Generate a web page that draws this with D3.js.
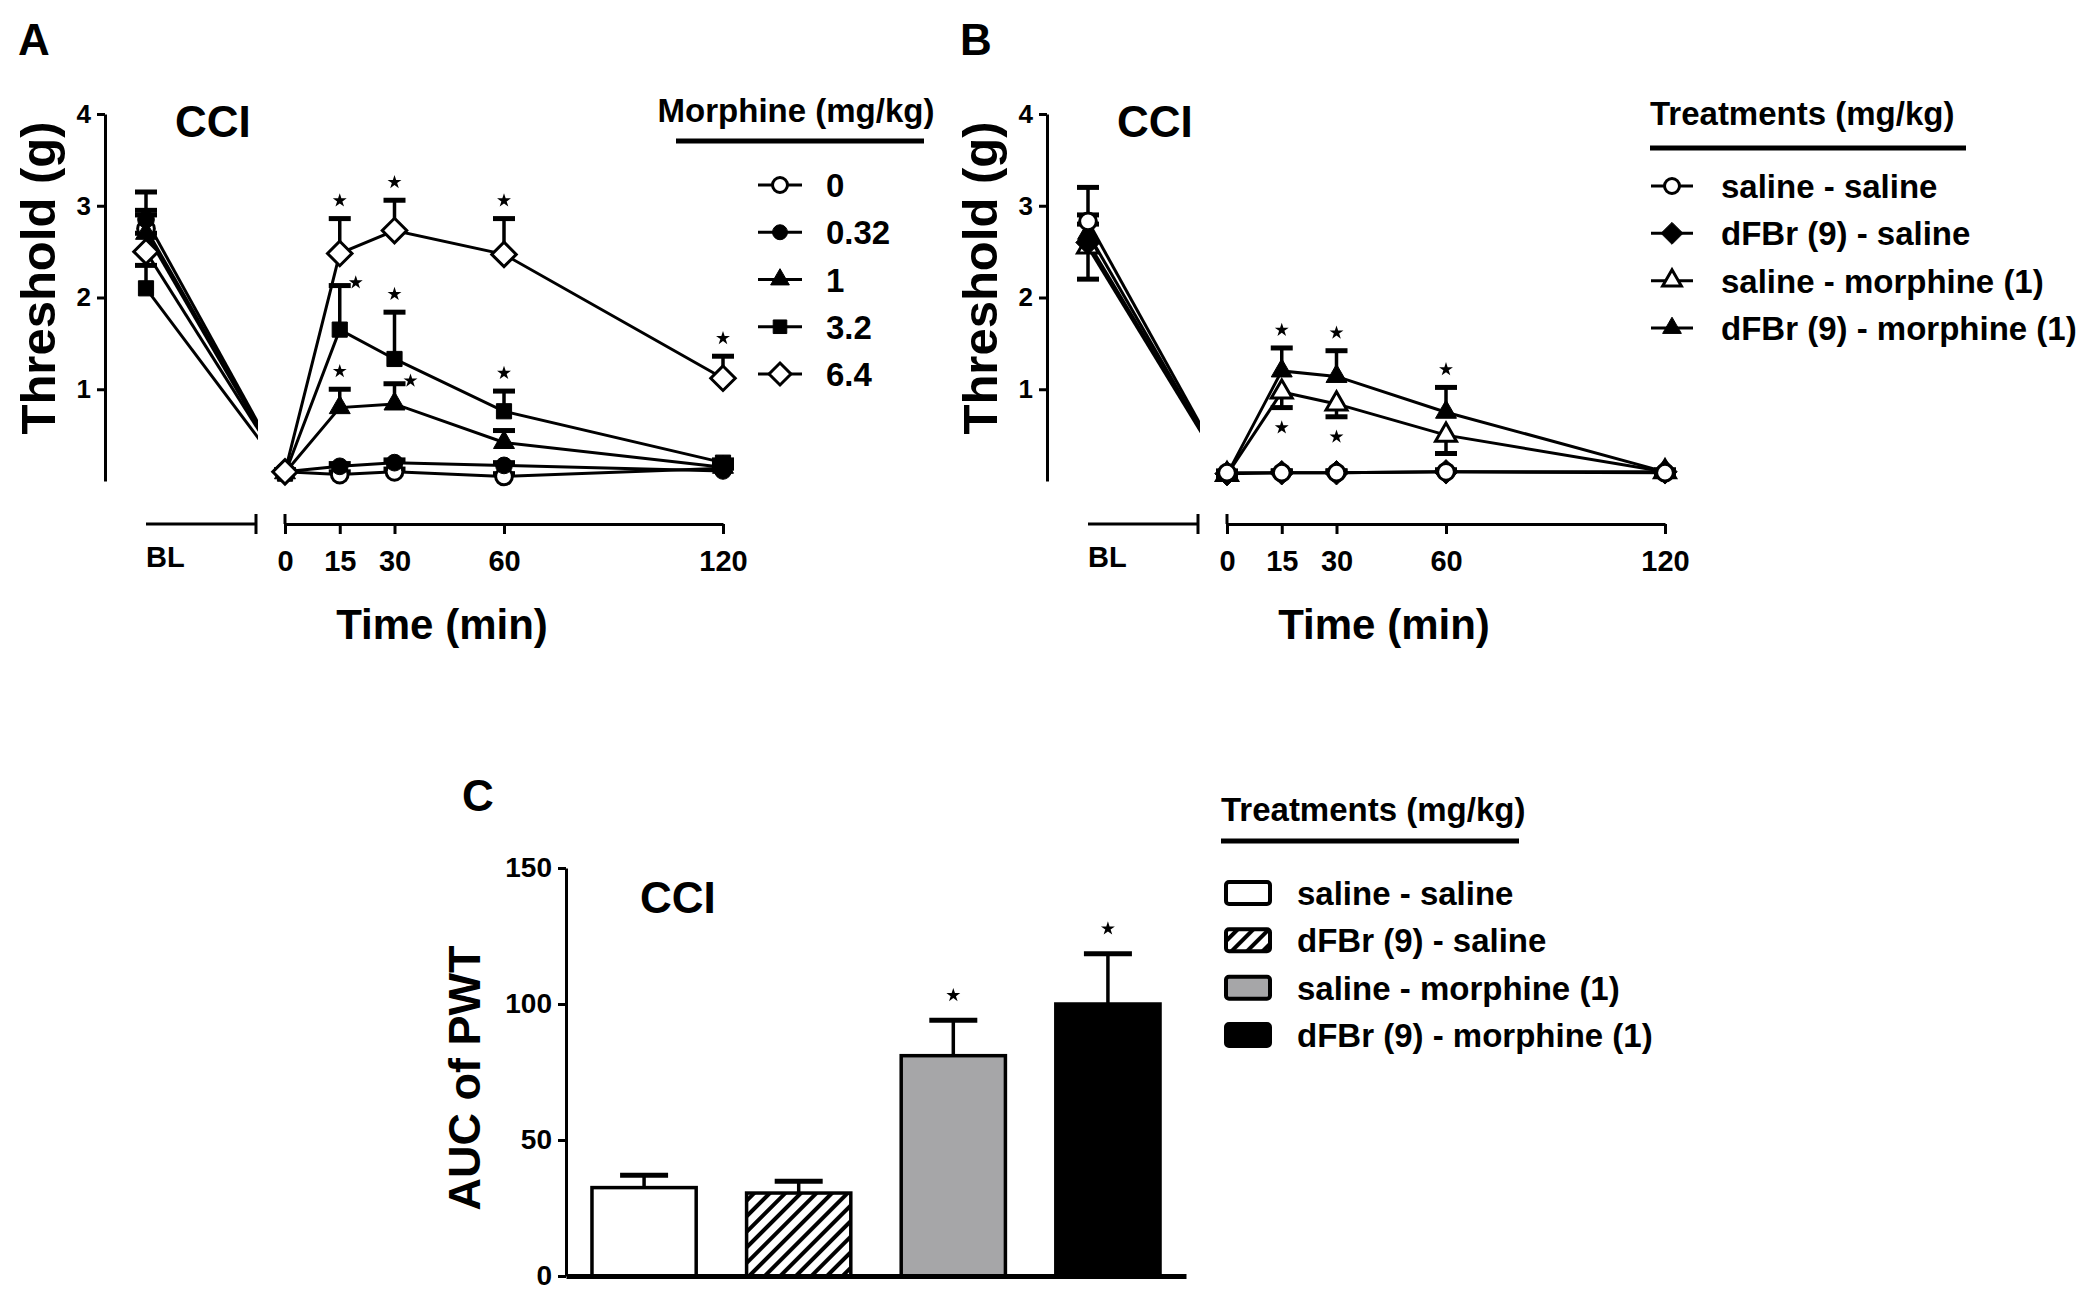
<!DOCTYPE html>
<html>
<head>
<meta charset="utf-8">
<script src="https://cdn.jsdelivr.net/npm/d3@7"></script>
<style>
  body { margin: 0; background: #fff; }
  text { font-family: "Liberation Sans", Arial, sans-serif; font-weight: bold; fill: #000; }
</style>
</head>
<body>
<svg id="fig" width="2100" height="1294"></svg>
<script>
// time points (min) after injection; every series array is [BL, 0, 15, 30, 60, 120]
const times = [0, 15, 30, 60, 120];
const thresholdTicks = [1, 2, 3, 4];
const aucTicks = [0, 50, 100, 150];

// Panel A: morphine dose groups (mg/kg)
const doseLabels = ['0', '0.32', '1', '3.2', '6.4'];
const dose0 = [2.75, 0.1, 0.07, 0.1, 0.05, 0.14];
const dose0Sem = [0.2, 0.02, 0.03, 0.03, 0.03, 0.03];
const dose032 = [2.85, 0.1, 0.16, 0.2, 0.17, 0.11];
const dose032Sem = [0.3, 0.02, 0.03, 0.03, 0.03, 0.03];
const dose1 = [2.7, 0.09, 0.8, 0.84, 0.42, 0.15];
const dose1Sem = [0.2, 0.02, 0.2, 0.22, 0.13, 0.03];
const dose32 = [2.1, 0.08, 1.65, 1.33, 0.76, 0.2];
const dose32Sem = [0.25, 0.02, 0.48, 0.51, 0.22, 0.03];
const dose64 = [2.5, 0.1, 2.48, 2.73, 2.47, 1.12];
const dose64Sem = [0.2, 0.02, 0.38, 0.33, 0.39, 0.24];
// significance marks: [group, time, where]
const starsA = [['6.4', 15, 'above'], ['6.4', 30, 'above'], ['6.4', 60, 'above'], ['6.4', 120, 'above'],
  ['3.2', 15, 'right'], ['3.2', 30, 'above'], ['3.2', 60, 'above'], ['1', 15, 'above'], ['1', 30, 'right']];

// Panel B: treatment combinations (mg/kg)
const treatments = ['saline - saline', 'dFBr (9) - saline', 'saline - morphine (1)', 'dFBr (9) - morphine (1)'];
const salSal = [2.83, 0.09, 0.09, 0.09, 0.1, 0.09];
const salSalSem = [0.37, 0.02, 0.02, 0.02, 0.02, 0.02];
const dfbrSal = [2.6, 0.08, 0.09, 0.09, 0.1, 0.1];
const dfbrSalSem = [0.2, 0.02, 0.02, 0.02, 0.02, 0.02];
const salMor = [2.55, 0.07, 0.97, 0.84, 0.5, 0.1];
const salMorSem = [0.35, 0.02, 0.17, 0.14, 0.2, 0.02];
const dfbrMor = [2.7, 0.07, 1.2, 1.14, 0.75, 0.1];
const dfbrMorSem = [0.2, 0.02, 0.25, 0.28, 0.27, 0.02];
const starsB = [['dFBr (9) - morphine (1)', 15, 'above'], ['dFBr (9) - morphine (1)', 30, 'above'],
  ['dFBr (9) - morphine (1)', 60, 'above'], ['saline - morphine (1)', 15, 'below'], ['saline - morphine (1)', 30, 'below']];

// Panel C: area under the curve of paw withdrawal threshold
const aucMean = [32.5, 30.5, 81, 100];
const aucSem = [4.5, 4.3, 13, 18.5];
const aucStar = [false, false, true, true];

const svg = d3.select('#fig');

// rhombus marker (d3's diamond is too narrow)
const rhomb = {
  draw(ctx, size) {
    const r = Math.sqrt(size / 2);
    ctx.moveTo(0, -r); ctx.lineTo(r, 0); ctx.lineTo(0, r); ctx.lineTo(-r, 0); ctx.closePath();
  }
};
const shapes = {
  circle: [d3.symbolCircle, 220],
  triangle: [d3.symbolTriangle, 190],
  square: [d3.symbolSquare, 230],
  diamond: [rhomb, 300]
};

const seriesA = [
  { name: '0', mean: dose0, sem: dose0Sem, shape: 'circle', filled: false, dir: 1 },
  { name: '0.32', mean: dose032, sem: dose032Sem, shape: 'circle', filled: true, dir: 1 },
  { name: '1', mean: dose1, sem: dose1Sem, shape: 'triangle', filled: true, dir: 1 },
  { name: '3.2', mean: dose32, sem: dose32Sem, shape: 'square', filled: true, dir: 1 },
  { name: '6.4', mean: dose64, sem: dose64Sem, shape: 'diamond', filled: false, dir: 1 }
];
const seriesB = [
  { name: treatments[3], mean: dfbrMor, sem: dfbrMorSem, shape: 'triangle', filled: true, dir: 1 },
  { name: treatments[2], mean: salMor, sem: salMorSem, shape: 'triangle', filled: false, dir: -1 },
  { name: treatments[1], mean: dfbrSal, sem: dfbrSalSem, shape: 'diamond', filled: true, dir: 1 },
  { name: treatments[0], mean: salSal, sem: salSalSem, shape: 'circle', filled: false, dir: 1 }
];

function marker(sel, s, scale) {
  const [type, size] = shapes[s.shape];
  return sel.append('path')
    .attr('d', d3.symbol().type(type).size(size * (scale || 1))())
    .attr('fill', s.filled ? '#000' : '#fff')
    .attr('stroke', '#000')
    .attr('stroke-width', s.filled ? 1 : 3);
}

function styleAxis(sel, size) {
  sel.attr('font-family', null).attr('font-size', null);
  sel.select('.domain').attr('stroke', '#000').attr('stroke-width', 3);
  sel.selectAll('.tick line').attr('stroke', '#000').attr('stroke-width', 3);
  sel.selectAll('.tick text').style('font-size', size + 'px');
}

svg.append('defs').append('clipPath').attr('id', 'blClip')
  .append('rect').attr('x', 0).attr('y', 0).attr('width', 258).attr('height', 600);

function timeCourse(ox, letter, series, stars) {
  const g = svg.append('g').attr('transform', `translate(${ox},0)`);
  const y = d3.scaleLinear().domain([0, 4]).range([481, 114]);
  const x = d3.scaleLinear().domain([0, 120]).range([285, 723]);
  const xBL = d3.scalePoint().domain(['BL']).range([146, 256]).align(0);
  const px = i => (i === 0 ? xBL('BL') : x(times[i - 1]));

  g.append('text').attr('x', 18).attr('y', 55).style('font-size', '44px').text(letter);
  g.append('text').attr('x', 175).attr('y', 137).style('font-size', '44px').text('CCI');

  const ya = g.append('g').attr('transform', 'translate(105,0)')
    .call(d3.axisLeft(y).tickValues(thresholdTicks).tickFormat(d3.format('d'))
      .tickSize(8).tickSizeOuter(0).tickPadding(6));
  styleAxis(ya, 26);
  g.append('text').attr('transform', 'translate(55,278) rotate(-90)')
    .attr('text-anchor', 'middle').style('font-size', '49px').text('Threshold (g)');

  // time axis, with a break before 0
  const xa = g.append('g').attr('transform', 'translate(0,524)')
    .call(d3.axisBottom(x).tickValues(times).tickSize(10).tickSizeOuter(0).tickPadding(16));
  styleAxis(xa, 29);
  xa.append('line').attr('x1', x(0)).attr('x2', x(0)).attr('y1', -10).attr('y2', 0)
    .attr('stroke', '#000').attr('stroke-width', 3);
  const bl = g.append('g').attr('transform', 'translate(0,524)');
  const [b0, b1] = xBL.range();
  bl.append('line').attr('x1', b0).attr('x2', b1).attr('stroke', '#000').attr('stroke-width', 3);
  bl.append('line').attr('x1', b1).attr('x2', b1).attr('y1', -10).attr('y2', 10)
    .attr('stroke', '#000').attr('stroke-width', 3);
  bl.append('text').attr('x', xBL('BL')).attr('y', 43).style('font-size', '29px').text('BL');
  g.append('text').attr('x', 442).attr('y', 639).attr('text-anchor', 'middle')
    .style('font-size', '42px').text('Time (min)');

  const line = d3.line();
  series.forEach(s => {
    const pts = s.mean.map((v, i) => [px(i), y(v)]);
    g.append('path').attr('d', line(pts.slice(0, 2))).attr('clip-path', 'url(#blClip)')
      .attr('fill', 'none').attr('stroke', '#000').attr('stroke-width', 3);
    g.append('path').attr('d', line(pts.slice(1)))
      .attr('fill', 'none').attr('stroke', '#000').attr('stroke-width', 3);
  });
  series.forEach(s => {
    s.mean.forEach((v, i) => {
      const cx = px(i), end = y(v + s.dir * s.sem[i]);
      g.append('line').attr('x1', cx).attr('x2', cx).attr('y1', y(v)).attr('y2', end)
        .attr('stroke', '#000').attr('stroke-width', 3.5);
      g.append('line').attr('x1', cx - 11).attr('x2', cx + 11).attr('y1', end).attr('y2', end)
        .attr('stroke', '#000').attr('stroke-width', 5);
    });
  });
  series.forEach(s => {
    s.mean.forEach((v, i) => {
      marker(g, s).attr('transform', `translate(${px(i)},${y(v)})`);
    });
  });
  stars.forEach(([name, t, where]) => {
    const s = series.find(d => d.name === name);
    const i = times.indexOf(t) + 1;
    const cap = y(s.mean[i] + s.dir * s.sem[i]);
    let sx = px(i), sy = cap - 18;
    if (where === 'below') sy = cap + 20;
    if (where === 'right') { sx += 16; sy = cap - 3; }
    g.append('path').attr('d', d3.symbol().type(d3.symbolStar).size(60)())
      .attr('transform', `translate(${sx},${sy})`).attr('fill', '#000');
  });
}

timeCourse(0, 'A', seriesA, starsA);
timeCourse(942, 'B', seriesB, starsB);

// legend A
const legA = svg.append('g');
legA.append('text').attr('x', 796).attr('y', 122).attr('text-anchor', 'middle')
  .style('font-size', '33px').text('Morphine (mg/kg)');
legA.append('line').attr('x1', 676).attr('x2', 924).attr('y1', 141).attr('y2', 141)
  .attr('stroke', '#000').attr('stroke-width', 5);
const rowA = d3.scalePoint().domain(doseLabels).range([185, 374]);
seriesA.forEach(s => {
  const r = legA.append('g').attr('transform', `translate(780,${rowA(s.name)})`);
  r.append('line').attr('x1', -22).attr('x2', 22).attr('stroke', '#000').attr('stroke-width', 3);
  marker(r, s, 0.8);
  r.append('text').attr('x', 46).attr('y', 12).style('font-size', '33px').text(s.name);
});

// legend B
const legB = svg.append('g');
legB.append('text').attr('x', 1650).attr('y', 125).style('font-size', '33px').text('Treatments (mg/kg)');
legB.append('line').attr('x1', 1650).attr('x2', 1966).attr('y1', 148).attr('y2', 148)
  .attr('stroke', '#000').attr('stroke-width', 5);
const rowB = d3.scalePoint().domain(treatments).range([186, 328]);
seriesB.forEach(s => {
  const r = legB.append('g').attr('transform', `translate(1672,${rowB(s.name)})`);
  r.append('line').attr('x1', -21).attr('x2', 21).attr('stroke', '#000').attr('stroke-width', 3);
  marker(r, s, 0.8);
  r.append('text').attr('x', 49).attr('y', 12).style('font-size', '33px').text(s.name);
});

// Panel C: bars
const defs = svg.select('defs');
defs.append('pattern').attr('id', 'hatch').attr('patternUnits', 'userSpaceOnUse')
  .attr('width', 11).attr('height', 11).attr('patternTransform', 'rotate(45)')
  .call(p => {
    p.append('rect').attr('width', 11).attr('height', 11).attr('fill', '#fff');
    p.append('rect').attr('width', 4).attr('height', 11).attr('fill', '#000');
  });
const barFill = ['#fff', 'url(#hatch)', '#a6a6a8', '#000'];

const gC = svg.append('g');
const yC = d3.scaleLinear().domain([0, 150]).range([1276, 868]);
const xC = d3.scaleBand().domain(treatments).range([566, 1186]).paddingInner(0.326).paddingOuter(0.168);

gC.append('text').attr('x', 462).attr('y', 811).style('font-size', '44px').text('C');
gC.append('text').attr('x', 640).attr('y', 913).style('font-size', '44px').text('CCI');
gC.append('text').attr('transform', 'translate(480,1078) rotate(-90)')
  .attr('text-anchor', 'middle').style('font-size', '45px').text('AUC of PWT');

treatments.forEach((t, i) => {
  const cx = xC(t) + xC.bandwidth() / 2;
  const cap = yC(aucMean[i] + aucSem[i]);
  gC.append('line').attr('x1', cx).attr('x2', cx).attr('y1', yC(aucMean[i])).attr('y2', cap)
    .attr('stroke', '#000').attr('stroke-width', 3.5);
  gC.append('line').attr('x1', cx - 24).attr('x2', cx + 24).attr('y1', cap).attr('y2', cap)
    .attr('stroke', '#000').attr('stroke-width', 5);
  gC.append('rect').attr('x', xC(t)).attr('y', yC(aucMean[i]))
    .attr('width', xC.bandwidth()).attr('height', yC(0) - yC(aucMean[i]))
    .attr('fill', barFill[i]).attr('stroke', '#000').attr('stroke-width', 3.5);
  if (aucStar[i]) {
    gC.append('path').attr('d', d3.symbol().type(d3.symbolStar).size(60)())
      .attr('transform', `translate(${cx},${cap - 25})`).attr('fill', '#000');
  }
});

const yaC = gC.append('g').attr('transform', 'translate(566,0)')
  .call(d3.axisLeft(yC).tickValues(aucTicks).tickSize(8).tickSizeOuter(0).tickPadding(6));
styleAxis(yaC, 28);
const xaC = gC.append('g').attr('transform', 'translate(0,1276)')
  .call(d3.axisBottom(xC).tickSize(0).tickSizeOuter(0).tickFormat(''));
styleAxis(xaC, 28);
xaC.select('.domain').attr('stroke-width', 5);

// legend C
const legC = svg.append('g');
legC.append('text').attr('x', 1221).attr('y', 821).style('font-size', '33px').text('Treatments (mg/kg)');
legC.append('line').attr('x1', 1221).attr('x2', 1519).attr('y1', 841).attr('y2', 841)
  .attr('stroke', '#000').attr('stroke-width', 5);
const rowC = d3.scalePoint().domain(treatments).range([893, 1035]);
treatments.forEach((t, i) => {
  const r = legC.append('g').attr('transform', `translate(1224,${rowC(t)})`);
  r.append('rect').attr('x', 2).attr('y', -11).attr('width', 44).attr('height', 22).attr('rx', 3)
    .attr('fill', barFill[i]).attr('stroke', '#000').attr('stroke-width', 4);
  r.append('text').attr('x', 73).attr('y', 12).style('font-size', '33px').text(t);
});
</script>
</body>
</html>
